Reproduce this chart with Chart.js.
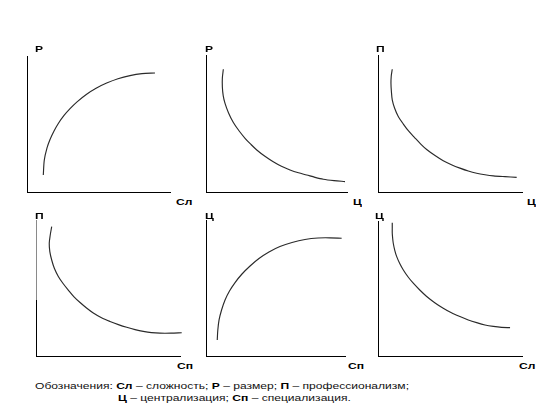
<!DOCTYPE html>
<html><head><meta charset="utf-8">
<script src="https://cdn.jsdelivr.net/npm/chart.js@4/dist/chart.umd.min.js"></script>
<style>
html,body{margin:0;padding:0;background:#fff;}
body{width:557px;height:409px;position:relative;overflow:hidden;font-family:"Liberation Sans",Arial,sans-serif;}
canvas{position:absolute;}
.lbl{position:absolute;font-weight:bold;font-size:9.5px;line-height:10px;color:#000;transform:scaleX(1.27);transform-origin:0 0;white-space:nowrap;}
.cap{position:absolute;font-size:9.5px;line-height:10px;color:#111;transform:scaleX(1.27);transform-origin:0 0;white-space:nowrap;}
.cap b{font-weight:bold;color:#000;}
</style></head><body>
<script>
// ---- data (abstract 0..10 units on both axes) ----
const yAxisLabels = ['Р', 'Р', 'П', 'П', 'Ц', 'Ц'];
const xAxisLabels = ['Сл', 'Ц', 'Ц', 'Сп', 'Сп', 'Сл'];

// Р vs Сл
const curve1X = [1.14, 1.21, 1.40, 1.61, 1.89, 2.19, 2.59, 3.01, 3.50, 4.17, 4.83, 5.57, 6.36, 7.20, 8.04, 8.95];
const curve1Y = [1.25, 2.35, 3.24, 3.86, 4.49, 5.04, 5.63, 6.13, 6.63, 7.19, 7.63, 8.01, 8.33, 8.56, 8.70, 8.75];

// Р vs Ц
const curve2X = [1.23, 1.16, 1.16, 1.22, 1.35, 1.60, 1.94, 2.34, 2.77, 3.19, 3.60, 4.18, 4.77, 5.35, 5.96, 6.56, 7.14, 7.73, 8.32, 9.08, 9.86];
const curve2Y = [8.96, 8.32, 7.66, 7.04, 6.47, 5.77, 5.07, 4.47, 3.92, 3.47, 3.07, 2.61, 2.21, 1.88, 1.61, 1.40, 1.24, 1.07, 0.93, 0.83, 0.76];

// П vs Ц
const curve3X = [0.99, 0.92, 0.90, 0.93, 0.99, 1.15, 1.39, 1.76, 2.15, 2.57, 2.97, 3.38, 3.96, 4.53, 5.10, 5.69, 6.27, 6.85, 7.43, 8.01, 8.82, 9.63];
const curve3Y = [8.96, 8.47, 7.93, 7.34, 6.72, 6.13, 5.55, 4.96, 4.42, 3.94, 3.50, 3.10, 2.66, 2.28, 1.99, 1.74, 1.53, 1.37, 1.26, 1.18, 1.12, 1.07];

// П vs Сп
const curve4X = [1.09, 0.99, 0.92, 0.96, 1.09, 1.28, 1.55, 1.88, 2.24, 2.64, 3.06, 3.51, 3.98, 4.55, 5.14, 5.72, 6.30, 6.88, 7.45, 8.02, 8.61, 9.38, 10.12];
const curve4Y = [9.51, 8.90, 8.29, 7.68, 7.06, 6.43, 5.85, 5.33, 4.85, 4.35, 3.93, 3.53, 3.16, 2.81, 2.54, 2.31, 2.11, 1.94, 1.81, 1.72, 1.68, 1.68, 1.71];

// Ц vs Сп
const curve5X = [0.81, 0.85, 0.94, 1.12, 1.37, 1.69, 2.09, 2.59, 3.17, 3.81, 4.53, 5.32, 6.19, 7.12, 8.06, 8.92, 9.76];
const curve5Y = [1.18, 1.91, 2.65, 3.38, 4.12, 4.78, 5.40, 6.03, 6.62, 7.17, 7.65, 8.05, 8.35, 8.57, 8.68, 8.69, 8.66];

// Ц vs Сл
const curve6X = [0.99, 0.99, 0.99, 1.02, 1.06, 1.16, 1.30, 1.51, 1.76, 2.08, 2.45, 2.90, 3.38, 3.94, 4.53, 5.10, 5.69, 6.27, 6.85, 7.43, 8.01, 8.58, 9.17];
const curve6Y = [9.87, 9.48, 9.09, 8.70, 8.35, 7.85, 7.36, 6.85, 6.37, 5.87, 5.39, 4.89, 4.41, 3.95, 3.54, 3.20, 2.92, 2.67, 2.47, 2.30, 2.19, 2.12, 2.10];

const curvesX = [curve1X, curve2X, curve3X, curve4X, curve5X, curve6X];
const curvesY = [curve1Y, curve2Y, curve3Y, curve4Y, curve5Y, curve6Y];

// ---- layout (page pixels) ----
const rects = [
  {L: 27,  T: 56,  R: 170, B: 192},
  {L: 206, T: 55,  R: 347, B: 192},
  {L: 378, T: 55,  R: 522, B: 192},
  {L: 36,  T: 220, R: 180, B: 356},
  {L: 206, T: 220, R: 345, B: 356},
  {L: 378, T: 221, R: 522, B: 356}
];
const yLabelPos = [[35, 44], [205, 44], [376, 44], [35, 210.5], [205, 210.5], [375, 210.5]];
const xLabelPos = [[176, 196.5], [353, 196.5], [527, 196.5], [177, 360.5], [348, 360.5], [519, 360.5]];

function addLabel(text, pos) {
  const d = document.createElement('div');
  d.className = 'lbl';
  d.textContent = text;
  d.style.left = pos[0] + 'px';
  d.style.top = pos[1] + 'px';
  document.body.appendChild(d);
}

function makePanel(i) {
  const r = rects[i];
  const pad = 4;
  const c = document.createElement('canvas');
  c.width = r.R - r.L + 2 * pad;
  c.height = r.B - r.T + 2 * pad;
  c.style.left = (r.L - pad) + 'px';
  c.style.top = (r.T - pad) + 'px';
  document.body.appendChild(c);
  let yBorderColor = '#000';
  if (i === 3) {
    // left axis of this panel is lighter grey in its upper part
    const g = c.getContext('2d').createLinearGradient(0, 0, 0, c.height);
    const cut = (300 - (r.T - pad)) / c.height;
    g.addColorStop(0, '#8a8a8a');
    g.addColorStop(cut, '#8a8a8a');
    g.addColorStop(cut + 0.001, '#000');
    g.addColorStop(1, '#000');
    yBorderColor = g;
  }
  const pts = curvesX[i].map((x, k) => ({x: x, y: curvesY[i][k]}));
  new Chart(c, {
    type: 'scatter',
    data: {datasets: [{
      data: pts, showLine: true, borderColor: '#2a2a2a', borderWidth: 1.15,
      pointRadius: 0, pointHoverRadius: 0, tension: 0.3, fill: false, clip: false
    }]},
    options: {
      responsive: false, animation: false, devicePixelRatio: 1,
      layout: {padding: pad},
      plugins: {legend: {display: false}, tooltip: {enabled: false}},
      events: [],
      scales: {
        x: {type: 'linear', min: 0, max: 10,
            grid: {display: false, drawTicks: false}, ticks: {display: false},
            border: {display: true, color: '#000', width: 1},
            afterFit(s) { s.height = 0; }},
        y: {type: 'linear', min: 0, max: 10,
            grid: {display: false, drawTicks: false}, ticks: {display: false},
            border: {display: true, color: () => yBorderColor, width: 1},
            afterFit(s) { s.width = 0; }}
      }
    }
  });
  addLabel(yAxisLabels[i], yLabelPos[i]);
  addLabel(xAxisLabels[i], xLabelPos[i]);
}

for (let i = 0; i < 6; i++) makePanel(i);
</script>
<div class="cap" style="left:35px;top:380.5px">Обозначения: <b>Сл</b> – сложность; <b>Р</b> – размер; <b>П</b> – профессионализм;</div>
<div class="cap" style="left:118px;top:392.5px"><b>Ц</b> – централизация; <b>Сп</b> – специализация.</div>
</body></html>
